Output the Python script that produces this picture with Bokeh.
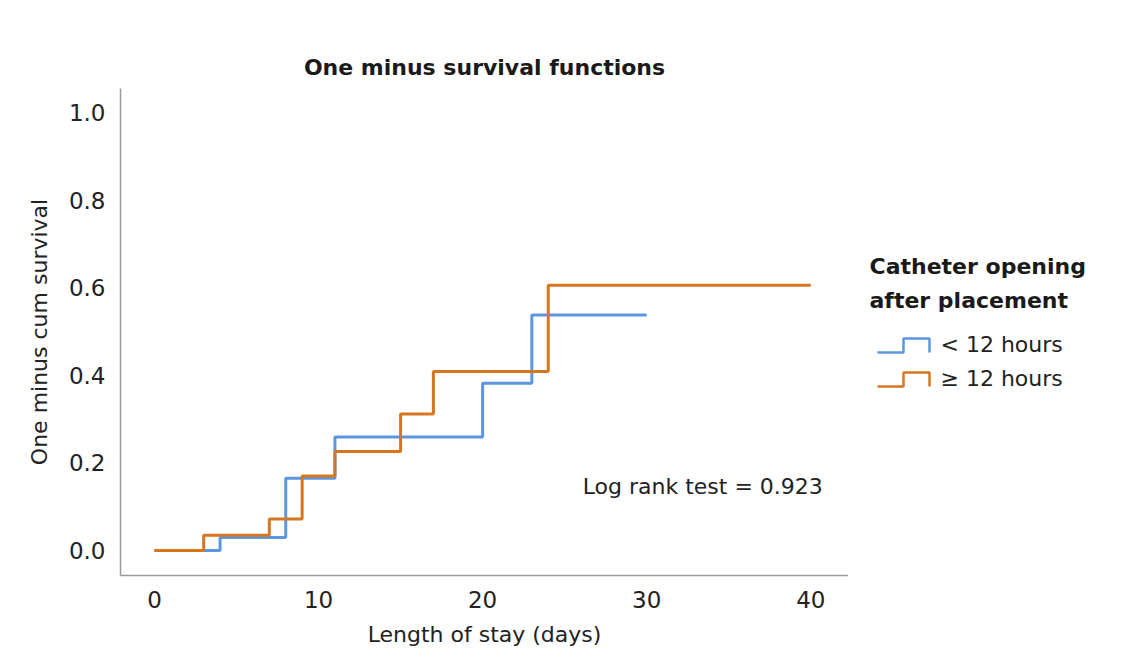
from bokeh.plotting import figure
from bokeh.models import Range1d, Label, CustomJSTickFormatter
from bokeh.layouts import row
from bokeh.embed import file_html
from bokeh.resources import INLINE

# Data (step functions: value after each event time)
blue_t = [0, 4, 8, 11, 20, 23, 30]
blue_y = [0.0, 0.030, 0.165, 0.259, 0.382, 0.538, 0.538]
orange_t = [0, 3, 7, 9, 11, 15, 17, 24, 40]
orange_y = [0.0, 0.035, 0.072, 0.170, 0.226, 0.312, 0.409, 0.606, 0.606]
series_names = ["< 12 hours", "\u2265 12 hours"]
x_ticks = [0, 10, 20, 30, 40]
y_ticks = [0.0, 0.2, 0.4, 0.6, 0.8, 1.0]
log_rank = 0.923

BLUE = "#5b96e0"
ORANGE = "#d8761f"
FONT = "DejaVu Sans"
H = 655
TOP = 88
BOTTOM = 80

p = figure(width=848, height=H, output_backend="svg", toolbar_location=None,
           x_range=Range1d(-2.07, 42.3), y_range=Range1d(-0.057, 1.055),
           min_border_left=120, min_border_right=0, min_border_top=TOP, min_border_bottom=BOTTOM)
p.outline_line_color = None
p.grid.visible = False
p.background_fill_color = "white"
p.border_fill_color = "white"

p.title.text = "One minus survival functions"
p.title.align = "center"
p.title.text_font = FONT
p.title.text_font_size = "22px"
p.title.text_font_style = "bold"
p.title.text_color = "#1a1a1a"
p.title.offset = 0
p.title.standoff = 17

for ax in (p.xaxis[0], p.yaxis[0]):
    ax.major_tick_line_color = None
    ax.minor_tick_line_color = None
    ax.axis_line_color = "#9a9a9a"
    ax.axis_line_width = 1.5
    ax.major_label_text_font = FONT
    ax.major_label_text_font_size = "23px"
    ax.major_label_text_color = "#222222"
    ax.axis_label_text_font = FONT
    ax.axis_label_text_font_size = "22px"
    ax.axis_label_text_font_style = "normal"
    ax.axis_label_text_color = "#222222"

p.xaxis.ticker = x_ticks
p.yaxis.ticker = y_ticks
p.yaxis.formatter = CustomJSTickFormatter(code="return tick.toFixed(1);")
p.xaxis.axis_label = "Length of stay (days)"
p.yaxis.axis_label = "One minus cum survival"
p.xaxis.major_label_standoff = 9
p.yaxis.major_label_standoff = 9
p.xaxis.axis_label_standoff = 11
p.yaxis.axis_label_standoff = 14

p.step(blue_t, blue_y, mode="after", line_color=BLUE, line_width=3)
p.step(orange_t, orange_y, mode="after", line_color=ORANGE, line_width=3)

p.add_layout(Label(x=26.1, y=0.146, text=f"Log rank test = {log_rank}",
                   text_font=FONT, text_font_size="22px", text_color="#222222",
                   text_baseline="middle", text_align="left"))

# Legend panel (its frame aligned with the main frame, ranges in page pixels)
LW = 277
lg = figure(width=LW, height=H, output_backend="svg", toolbar_location=None,
            x_range=Range1d(848, 848 + LW), y_range=Range1d(H - BOTTOM, TOP),
            min_border_left=0, min_border_right=0, min_border_top=TOP, min_border_bottom=BOTTOM)
lg.axis.visible = False
lg.grid.visible = False
lg.outline_line_color = None
lg.border_fill_color = "white"
lg.background_fill_color = "white"

for txt, yy in (("Catheter opening", 266), ("after placement", 300)):
    lg.add_layout(Label(x=869, y=yy, text=txt, text_font=FONT, text_font_size="22px",
                        text_font_style="bold", text_color="#1a1a1a",
                        text_baseline="middle", text_align="left"))

icon_colors = [BLUE, ORANGE]
icon_low = [352, 386]
for name, col, ylow in zip(series_names, icon_colors, icon_low):
    yhigh = ylow - 14
    lg.line([877, 903, 903, 929, 929], [ylow, ylow, yhigh, yhigh, ylow],
            line_color=col, line_width=2.5)
    lg.add_layout(Label(x=940, y=ylow - 8, text=name, text_font=FONT,
                        text_font_size="22px", text_color="#222222",
                        text_baseline="middle", text_align="left"))

layout = row(p, lg, spacing=0)
open("out.html", "w").write(file_html(layout, INLINE))
